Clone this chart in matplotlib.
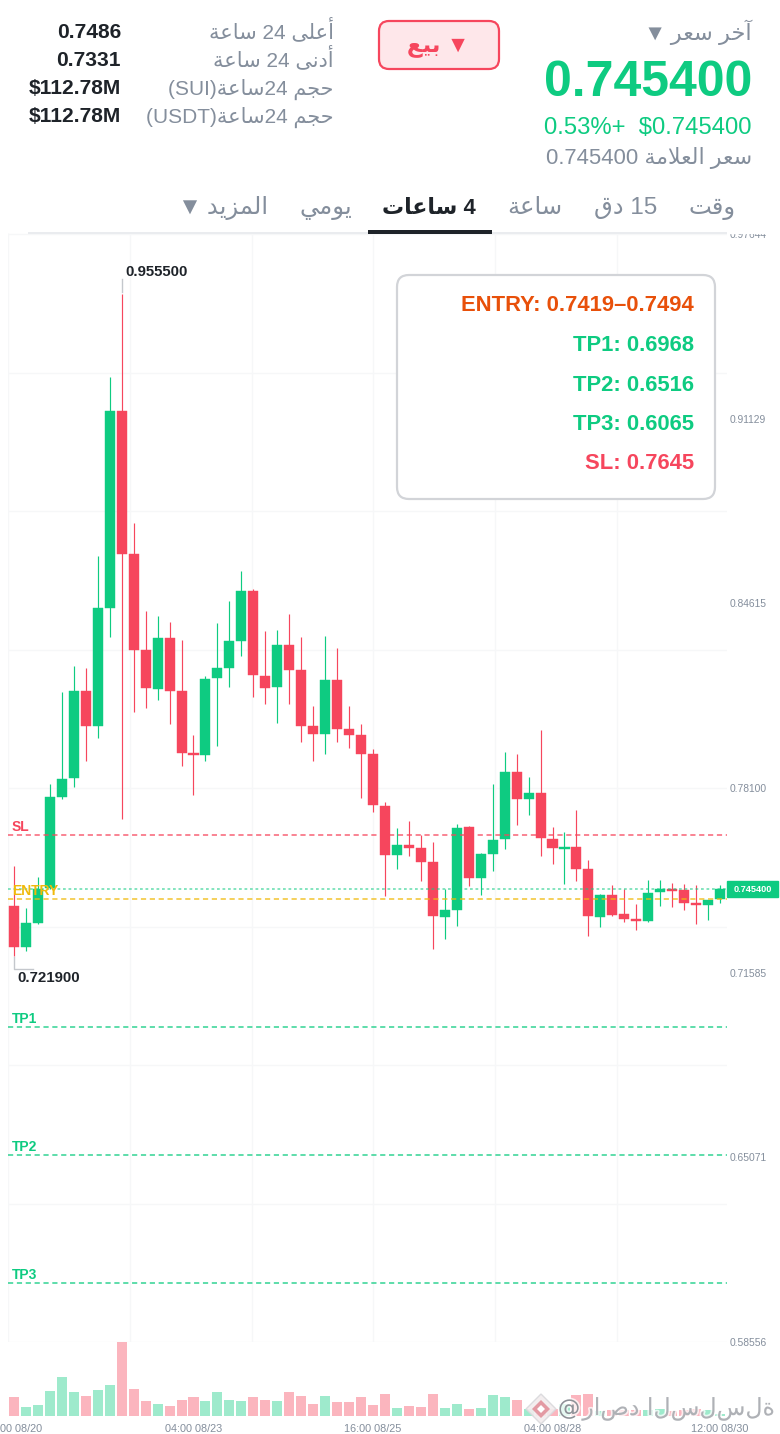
import re
import matplotlib
matplotlib.use('Agg')
import matplotlib.pyplot as plt
import matplotlib.patheffects as pe
from matplotlib.patches import FancyBboxPatch, Polygon, Rectangle

W, H = 780, 1434
GREEN = '#0ECB81'
RED = '#F6465D'
GRAY = '#848E9C'
DARK = '#1E2329'
YELLOW = '#F0B90B'
ORANGE = '#E8500A'
GRID = '#F6F7F8'
FONT = ['Liberation Sans', 'DejaVu Sans']

# 4h candles
opens = [.73946, .72499, .73346, .74571, .77793, .78442, .81534, .80299, .84453, .91405,
         .86348, .82970, .81605, .83383, .81513, .79325, .79265, .81972, .82346, .83299,
         .85063, .82053, .81654, .83147, .82264, .80288, .80016, .81912, .80182, .79960,
         .79289, .77475, .75735, .76099, .75972, .75499, .73558, .73805, .76713, .74913,
         .75781, .76290, .78654, .77722, .77924, .76300, .75958, .76007, .75231, .73558,
         .74334, .73643, .73487, .73417, .74430, .74546, .74490, .74041, .73971, .74183]
highs = [.75347, .73865, .74959, .78241, .81488, .82406, .82335, .86298, .92605, .95550,
         .87452, .84336, .84170, .83958, .83323, .79970, .82053, .83934, .84689, .85769,
         .85113, .83641, .83676, .84230, .83418, .80994, .83454, .83030, .80983, .80348,
         .79466, .77617, .76688, .76946, .76431, .76194, .74525, .76819, .76759, .75795,
         .78231, .79360, .79300, .78478, .80147, .76734, .76558, .77324, .75559, .74359,
         .74677, .74535, .74006, .74853, .74853, .74737, .74712, .74677, .74147, .74677]
lows = [.72190, .72358, .73300, .74535, .77722, .78146, .79042, .79875, .83440, .77017,
        .80793, .80934, .81206, .80369, .78887, .77842, .79063, .79593, .81675, .82769,
        .81322, .81065, .80405, .81054, .79734, .79053, .79289, .79734, .79522, .77747,
        .77264, .74299, .75241, .75700, .74818, .72418, .72771, .73240, .74641, .74324,
        .75171, .75947, .76794, .77147, .75700, .75418, .74712, .74828, .72877, .73205,
        .73583, .73371, .73089, .73360, .73936, .73911, .73805, .73311, .73441, .74052]
closes = [.72499, .73346, .74535, .77782, .78428, .81534, .80299, .84453, .91405, .86348,
          .82981, .81619, .83383, .81513, .79335, .79254, .81957, .82324, .83277, .85053,
          .82077, .81640, .83136, .82275, .80299, .80006, .81901, .80182, .79970, .79289,
          .77489, .75735, .76088, .75982, .75499, .73572, .73794, .76699, .74913, .75771,
          .76265, .78654, .77722, .77913, .76325, .75972, .76007, .75252, .73572, .74324,
          .73629, .73487, .73406, .74405, .74546, .74475, .74052, .73971, .74147, .74540]
volumes = [58, 26, 33, 76, 117, 72, 61, 77, 93, 222, 81, 44, 35, 30, 47, 57, 45, 71, 47, 45,
           58, 47, 44, 72, 59, 35, 61, 42, 41, 57, 32, 65, 24, 30, 27, 66, 25, 35, 22, 23,
           64, 57, 48, 22, 30, 20, 36, 63, 66, 15, 18, 17, 17, 19, 21, 15, 17, 20, 18, 5]

price_ticks = [.97644, .91129, .84615, .78100, .71585, .65071, .58556]
price_tick_labels = ['0.97644', '0.91129', '0.84615', '0.78100', '0.71585', '0.65071', '0.58556']
grid_prices = [.97644, .92758, .87872, .82986, .78100, .73214, .68328, .63442, .58556]
grid_candles = [-.5, 9.69, 19.89, 30.0, 40.2, 50.4]
date_ticks = [0, 15, 30, 45, 59]
date_labels = ['04:00 08/20', '04:00 08/23', '16:00 08/25', '04:00 08/28', '12:00 08/30']

last_price = 0.7454
level_names = ['SL', 'ENTRY', 'TP1', 'TP2', 'TP3']
level_prices = [.7645, .7419, .6968, .6516, .6065]
level_colors = [RED, YELLOW, GREEN, GREEN, GREEN]

signal_lines = ['ENTRY: 0.7419–0.7494', 'TP1: 0.6968', 'TP2: 0.6516', 'TP3: 0.6065', 'SL: 0.7645']
signal_colors = [ORANGE, GREEN, GREEN, GREEN, RED]

stats_labels = ['أعلى 24 ساعة', 'أدنى 24 ساعة', 'حجم 24ساعة(SUI)', 'حجم 24ساعة(USDT)']
stats_values = ['0.7486', '0.7331', '$112.78M', '$112.78M']
tab_labels = ['وقت', '15 دق', 'ساعة', '4 ساعات', 'يومي', 'المزيد\u2009▼']
tab_right = [736, 657, 562, 476, 352, 268]

# isolated, final, initial, medial presentation forms
FORMS = {'ا': 'ﺍﺎ', 'آ': 'ﺁﺂ', 'أ': 'ﺃﺄ', 'د': 'ﺩﺪ', 'ر': 'ﺭﺮ', 'ز': 'ﺯﺰ', 'ة': 'ﺓﺔ', 'و': 'ﻭﻮ', 'ى': 'ﻯﻰ',
         'ب': 'ﺏﺐﺑﺒ', 'ت': 'ﺕﺖﺗﺘ', 'ج': 'ﺝﺞﺟﺠ', 'ح': 'ﺡﺢﺣﺤ', 'خ': 'ﺥﺦﺧﺨ', 'س': 'ﺱﺲﺳﺴ', 'ع': 'ﻉﻊﻋﻌ',
         'ق': 'ﻕﻖﻗﻘ', 'ل': 'ﻝﻞﻟﻠ', 'م': 'ﻡﻢﻣﻤ', 'ن': 'ﻥﻦﻧﻨ', 'ي': 'ﻱﻲﻳﻴ'}
LAM_ALEF = {'ا': 'ﻻﻼ', 'أ': 'ﻷﻸ', 'آ': 'ﻵﻶ'}


def shape_run(word):
    # matplotlib has no Arabic shaping, so pick the joined glyphs by hand
    out = []
    joined = False
    i = 0
    while i < len(word):
        ch = word[i]
        nxt = word[i + 1] if i + 1 < len(word) else ''
        if ch == 'ل' and nxt in LAM_ALEF:
            out.append(LAM_ALEF[nxt][int(joined)])
            joined = False
            i += 2
            continue
        forms = FORMS[ch]
        if len(forms) == 2:
            out.append(forms[int(joined)])
            joined = False
        else:
            out.append(forms[(2 if nxt in FORMS else 0) + int(joined)])
            joined = nxt in FORMS
        i += 1
    return ''.join(reversed(out))


def ar(text):
    runs = re.findall(r'[\u0600-\u06FF]+|\s+|[^\u0600-\u06FF\s]+', text)
    return ''.join(shape_run(r) if r[0] in FORMS else r for r in reversed(runs))


def px_axes(left, top, right, bottom, **kw):
    return fig.add_axes([left / W, 1 - bottom / H, (right - left) / W, (bottom - top) / H], **kw)


plt.rcParams['font.family'] = FONT
fig = plt.figure(figsize=(W / 100, H / 100), dpi=100, facecolor='white')

# price panel
ax = px_axes(8, 233, 727, 1342)
ax.set_xlim(-.5, 59.58)
ax.set_ylim(.58556, .97687)
ax.hlines(grid_prices, -.5, 59.58, color=GRID, lw=1, zorder=0)
ax.vlines(grid_candles, .58556, .97687, color=GRID, lw=1, zorder=0)

idx = range(len(opens))
colors = [GREEN if c >= o else RED for o, c in zip(opens, closes)]
ax.vlines(idx, lows, highs, color=colors, lw=.85, zorder=2)
ax.bar(idx, [abs(c - o) for o, c in zip(opens, closes)], bottom=[min(o, c) for o, c in zip(opens, closes)],
       width=.84, color=colors, edgecolor=colors, lw=.3, zorder=3)

for name, price, col in zip(level_names, level_prices, level_colors):
    ax.axhline(price, color=col, lw=1.1, ls=(0, (3.4, 2.4)), alpha=.85, zorder=4)
    ax.annotate(name, (-.5, price), xytext=(4, 8), textcoords='offset pixels', color=col,
                fontsize=10, fontweight='bold', ha='left', va='center', zorder=5)
ax.axhline(last_price, color=GREEN, lw=1.1, ls=(0, (1.8, 1.8)), alpha=.65, zorder=4)

# high / low markers
hi_i, lo_i = highs.index(max(highs)), lows.index(min(lows))
ax.plot([hi_i, hi_i], [max(highs) + .0007, max(highs) + .0050], color='#C4C7CC', lw=1, zorder=4)
ax.text(hi_i + .33, max(highs) + .0076, f'{max(highs):.6f}', color=DARK, fontsize=10.8, fontweight='bold',
        va='center', ha='left')
ax.plot([lo_i, lo_i, lo_i + 1.6], [min(lows) - .0005, min(lows) - .0046, min(lows) - .0046], color='#C4C7CC', lw=1, zorder=4)
ax.text(lo_i + .3, min(lows) - .0079, f'{min(lows):.6f}', color=DARK, fontsize=10.8, fontweight='bold',
        va='center', ha='left')

ax.yaxis.tick_right()
ax.set_yticks(price_ticks)
ax.set_yticklabels(price_tick_labels)
ax.tick_params(axis='y', length=0, pad=2.2, labelsize=7.4, labelcolor=GRAY)
ax.set_xticks([])
for s in ax.spines.values():
    s.set_visible(False)
ax.patch.set_visible(False)

# last price tag
ax.add_patch(Rectangle((59.58, last_price - .0029), 4.26, .0058, color=GREEN, clip_on=False, zorder=6))
ax.text(61.71, last_price - .0003, f'{last_price:.6f}', color='white', fontsize=6.6, fontweight='bold',
        ha='center', va='center', clip_on=False, zorder=7)

# volume panel
vol = px_axes(8, 1342, 727, 1416)
vol.set_xlim(-.5, 59.58)
vol.set_ylim(0, 222)
vol.bar(idx, volumes, width=.84, color=colors, alpha=.4, lw=0)
vol.set_yticks([])
vol.set_xticks(date_ticks)
vol.set_xticklabels(date_labels)
vol.tick_params(axis='x', length=0, pad=5.6, labelsize=7.8, labelcolor=GRAY)
for s in vol.spines.values():
    s.set_visible(False)
vol.patch.set_visible(False)

# everything else is placed in screen pixels
ov = fig.add_axes([0, 0, 1, 1], zorder=5)
ov.set_xlim(0, W)
ov.set_ylim(H, 0)
ov.axis('off')
ov.patch.set_visible(False)
ov.add_patch(Rectangle((727, 222), 53, 11, color='white', zorder=1))

ov.text(752, 40, ar('آخر سعر\u2009▼'), color=GRAY, fontsize=16.2, ha='right', va='baseline')
ov.text(752, 96.5, '0.745400', color=GREEN, fontsize=36, fontweight='bold', ha='right', va='baseline')
ov.text(752, 134, '0.53%+  $0.745400', color=GREEN, fontsize=17.2, ha='right', va='baseline')
ov.text(752, 164, ar('سعر العلامة 0.745400'), color=GRAY, fontsize=15.9, ha='right', va='baseline')

ov.add_patch(FancyBboxPatch((379, 21), 120, 48, boxstyle='round,pad=0,rounding_size=10',
                            fc='#FEE7EA', ec=RED, lw=1.6))
ov.text(438, 46, ar('▼ بيع'), color=RED, fontsize=16.5, fontweight='bold', ha='center', va='center')

for i, (label, value) in enumerate(zip(stats_labels, stats_values)):
    ov.text(334, 38 + 28.2 * i, ar(label), color=GRAY, fontsize=15, ha='right', va='baseline')
    ov.text(121, 38 + 28 * i, value, color=DARK, fontsize=15.1, fontweight='bold', ha='right', va='baseline')

for i, (label, right) in enumerate(zip(tab_labels, tab_right)):
    active = i == 3
    ov.text(right, 214, ar(label), color=DARK if active else GRAY, fontsize=15.8 if active else 17.5,
            fontweight='bold' if active else 'normal', ha='right', va='baseline')
ov.add_patch(Rectangle((28, 232), 699, 2, color='#EAECEF', lw=0))
ov.add_patch(Rectangle((368, 230), 124, 4, color=DARK, lw=0))

# signal box
ov.add_patch(FancyBboxPatch((397, 275), 318, 224, boxstyle='round,pad=0,rounding_size=12',
                            fc='white', ec='#D2D4D8', lw=1.6))
for text, col, y in zip(signal_lines, signal_colors, [311, 351, 391, 430, 469]):
    ov.text(694, y, text, color=col, fontsize=15.8, fontweight='bold', ha='right', va='baseline')

# watermark
ov.add_patch(Polygon([(541, 1394), (556, 1409), (541, 1424), (526, 1409)], fc='#F2EDEE', ec='#D9D9DC', lw=1, alpha=.9))
ov.add_patch(Polygon([(541, 1400), (550, 1409), (541, 1418), (532, 1409)], fc='#E39AA3', ec='none'))
ov.add_patch(Polygon([(541, 1405), (545, 1409), (541, 1413), (537, 1409)], fc='white', ec='none'))
halo = [pe.withStroke(linewidth=2.5, foreground='white', alpha=.75)]
ov.text(558, 1409, '@', color='#8E9197', fontsize=16, ha='left', va='center', family='DejaVu Sans', path_effects=halo)
ov.text(775, 1409, 'راصد السلسلة', color='#A8ABB0', fontsize=17, ha='right', va='center',
        family='DejaVu Sans', path_effects=halo, alpha=.9)

fig.savefig('out.png', dpi=100)
